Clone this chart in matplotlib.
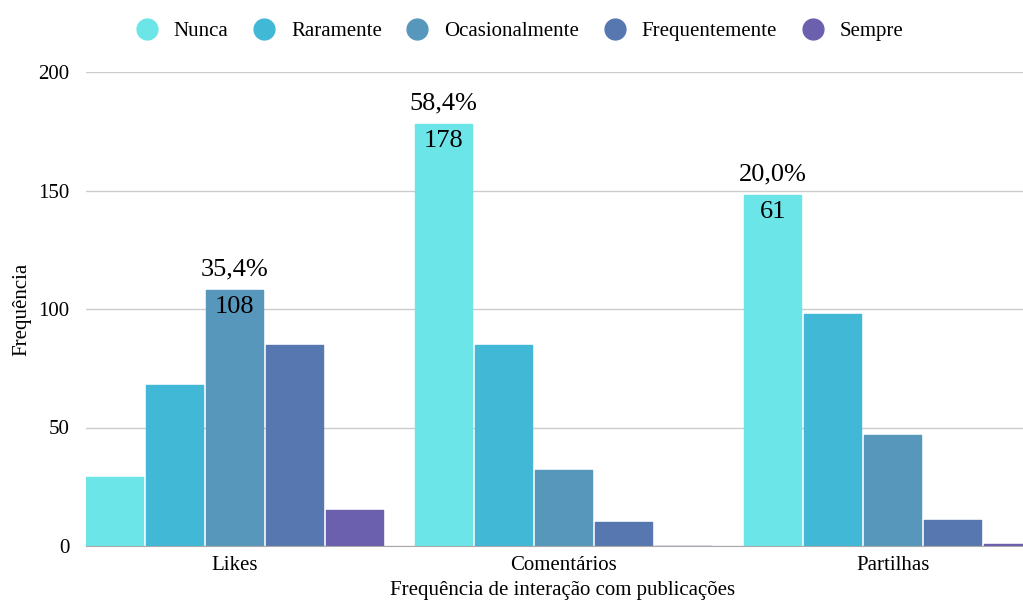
import numpy as np
import matplotlib.pyplot as plt
from matplotlib.lines import Line2D

plt.rcParams["font.family"] = ["Liberation Serif", "DejaVu Serif"]

categories = ["Likes", "Comentários", "Partilhas"]
series = ["Nunca", "Raramente", "Ocasionalmente", "Frequentemente", "Sempre"]
colors = ["#6ce5e8", "#41b8d5", "#5897bc", "#5677b0", "#6a60ae"]
values = [
    [29, 178, 148],   # Nunca
    [68, 85, 98],     # Raramente
    [108, 32, 47],    # Ocasionalmente
    [85, 10, 11],     # Frequentemente
    [15, 0, 1],       # Sempre
]
# (category index, series index, percent label, count label)
annotations = [
    (0, 2, "35,4%", "108"),
    (1, 0, "58,4%", "178"),
    (2, 0, "20,0%", "61"),
]

fig = plt.figure(figsize=(10.23, 6.01), dpi=100)
ax = fig.add_axes([86 / 1023, 55 / 601, 1 - 86 / 1023, 474 / 601])

x = np.arange(len(categories))
step = 60 / 329
width = 57 / 329
for i, (name, vals) in enumerate(zip(series, values)):
    ax.bar(x + (i - 2) * step, vals, width=width, color=colors[i], label=name,
           zorder=3, edgecolor=colors[i], linewidth=1, joinstyle="round")

for ci, si, pct, cnt in annotations:
    xpos = ci + (si - 2) * step
    h = values[si][ci]
    ax.text(xpos, h + 4, pct, ha="center", va="bottom", fontsize=19)
    ax.text(xpos, h - 2.5, cnt, ha="center", va="top", fontsize=19)

ax.set_ylim(0, 200)
ax.set_xlim(-2 * step - width / 2, (1023 - 235) / 329)
ax.set_yticks([0, 50, 100, 150, 200])
ax.set_xticks(x)
ax.set_xticklabels(categories)
ax.tick_params(length=0, labelsize=15, pad=7)
ax.tick_params(axis="y", pad=12)
ax.yaxis.grid(True, color="#cccccc", linewidth=1, zorder=0)
for s in ["top", "right", "left"]:
    ax.spines[s].set_visible(False)
ax.spines["bottom"].set_color("#aaaaaa")
ax.spines["bottom"].set_zorder(4)

ax.set_xlabel("Frequência de interação com publicações", fontsize=15)
ax.xaxis.set_label_coords(0.5 + 8 / 937, -0.074)
ax.set_ylabel("Frequência", fontsize=15, labelpad=5)

handles = [Line2D([0], [0], marker="o", linestyle="", markersize=15,
                  markerfacecolor=c, markeredgecolor=c) for c in colors]
fig.legend(handles, series, loc="upper center", bbox_to_anchor=(0.503, 0.995),
           ncol=5, frameon=False, fontsize=15, handletextpad=0.3,
           columnspacing=0.7)

fig.savefig("out.png", dpi=100)
